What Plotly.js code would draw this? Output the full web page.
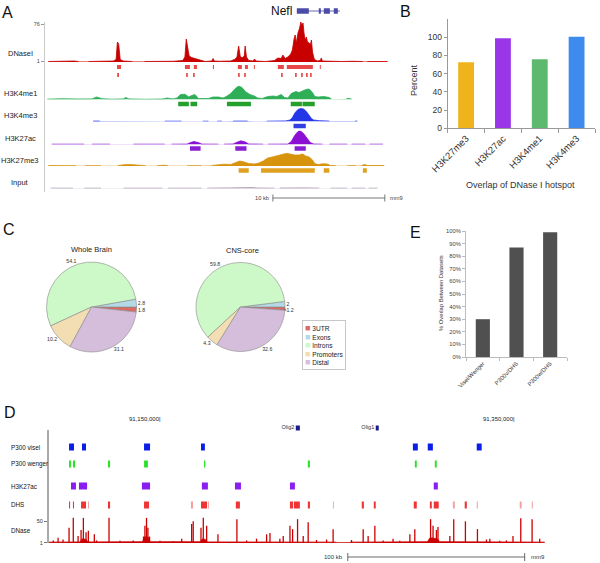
<!DOCTYPE html>
<html><head><meta charset="utf-8">
<script src="https://cdn.plot.ly/plotly-3.0.1.min.js"></script>
<style>html,body{margin:0;padding:0;background:#fff}#chart{width:600px;height:563px}</style>
</head><body><div id="chart"></div>
<script>
// ================= DATA =================
// ---- Panel A (mm9, Nefl locus; positions in kb from window start) ----
const A_nefl_exons = [[22.5,23.57],[24.46,24.64],[24.91,25.45],[25.8,26.16]];
const A_nefl_span = [[22.5,26.34]];
const A_dnase = [
 [[0.3,1],[1.2,1.5],[2.2,1],[2.6,2],[3.0,1]],
 [[3.9,1],[5.2,1.5],[6.1,2],[6.35,5],[6.47,40],[6.58,36],[6.72,5],[7.0,2],[7.8,1]],
 [[8.9,1],[10.5,1],[11.5,1.5],[12.3,3],[12.5,10],[12.62,46],[12.74,32],[12.88,12],[13.1,9],[13.4,7],[13.7,5],[14.0,3],[14.3,1],[14.9,2],[15.02,7],[15.12,2],[15.6,1.5],[16.6,2],[17.0,6],[17.15,10],[17.3,32],[17.45,10],[17.65,9],[17.8,12],[17.88,32],[18.0,10],[18.2,3],[18.6,2],[18.72,6],[18.85,2],[19.7,1],[20.5,3],[20.8,8],[21.1,7],[21.25,14],[21.45,7],[21.7,10],[21.95,16],[22.1,24],[22.25,46],[22.35,54],[22.45,38],[22.6,58],[22.75,68],[22.85,80],[22.95,74],[23.05,78],[23.15,56],[23.25,44],[23.35,50],[23.45,40],[23.6,38],[23.7,34],[23.8,44],[23.9,20],[24.05,6],[24.3,2],[24.6,3],[24.68,8],[24.78,2],[25.3,1.5],[26.5,1],[27.5,1.5],[28.4,1]],
 [[28.8,1],[30.6,1]]
];
const A_hotspots = [[6.43,6.79],[12.5,12.95],[13.3,13.57],[15.0,15.1],[17.23,17.59],[17.86,18.13],[18.66,18.75],[20.8,21.34],[21.6,23.93],[24.55,24.64]];
const A_peaks = [[6.46,6.6],[12.62,12.75],[13.24,13.37],[17.26,17.39],[17.8,17.93],[21.1,21.23],[22.35,22.48],[22.89,23.02],[23.33,23.46],[23.69,23.82]];
const A_k4me1 = [
 [[0.2,0.3],[1.5,0.8],[3.0,0.5],[4.2,0.6],[4.6,2.5],[5.1,0.8],[6.0,0.3],[7.0,0.6],[7.2,2],[7.5,0.6],[9.0,0.2],[10.5,0.5],[10.9,1.5],[11.4,0.6],[11.8,1.5],[12.1,5],[12.5,5.3],[12.85,2.5],[13.1,4],[13.4,5],[13.7,1],[14.6,1],[15.0,2.5],[15.5,2.5],[15.9,1.5],[16.2,3],[16.6,6],[17.0,11],[17.3,13.5],[17.6,12],[17.9,8],[18.3,5],[18.7,3.5],[19.0,1.5],[19.4,1],[19.9,3],[20.4,3.5],[20.7,3],[21.1,5],[21.4,2],[21.7,1.5],[22.0,6],[22.4,8],[22.7,7],[23.0,8.5],[23.3,10],[23.6,10.5],[23.9,7],[24.1,3],[24.4,2.5],[24.9,3],[25.4,2],[25.6,0.3]],
 [[26.9,0.5],[27.1,1.2],[27.4,0.3]]
];
const A_k4me1_regions = [[11.9,12.85],[13.0,13.6],[16.25,18.4],[21.95,22.95],[23.0,24.1]];
const A_k4me3 = [
 [[4.3,0.4],[4.9,0.4]], [[10.7,0.3],[12.2,0.3]], [[14.1,0.3],[14.6,0.3]], [[15.4,0.3],[15.8,0.3]], [[16.8,0.4],[18.1,0.4]],
 [[19.8,0.3],[21.5,0.6],[21.9,1.5],[22.1,4],[22.35,9],[22.6,12],[22.85,13],[23.1,12.5],[23.35,10],[23.6,6],[23.8,3],[24.0,1.5],[24.5,0.8],[25.4,0.4]],
 [[27.7,0.4],[27.9,0.4]]
];
const A_k4me3_regions = [[22.2,23.3]];
const A_k27ac = [
 [[0.6,0.3],[3.5,0.3]], [[4.2,0.3],[5.8,0.3]], [[7.9,0.3],[10.7,0.3]],
 [[11.3,0.3],[12.7,0.4],[13.0,2],[13.3,3],[13.7,2],[14.0,0.4],[15.5,0.3]],
 [[16.0,0.3],[16.8,0.5],[17.2,2.5],[17.5,3.7],[17.9,2.5],[18.2,0.5],[19.5,0.3]],
 [[19.9,0.3],[21.7,0.4],[22.0,3],[22.3,9],[22.6,13],[22.8,13.7],[23.1,11],[23.4,6],[23.7,2],[24.0,0.5],[24.8,0.3]],
 [[25.4,0.3],[27.0,0.3]], [[27.4,0.3],[28.6,0.3]], [[29.0,0.3],[30.2,0.3]]
];
const A_k27ac_regions = [[12.95,13.9],[17.0,18.0],[22.3,23.3]];
const A_k27me3 = [
 [[0.3,0.4],[1.5,0.6],[2.8,0.3]], [[3.6,0.3],[5.0,0.3]],
 [[6.5,0.3],[7.0,1.2],[7.6,1.5],[8.4,1],[9.0,0.3]], [[10.0,0.3],[10.6,0.8],[11.0,0.3]], [[12.7,0.3],[13.4,0.6],[14.0,0.3]],
 [[14.9,0.5],[15.5,1.5],[16.0,1.8],[16.6,1.5],[17.0,3],[17.4,5],[17.8,4],[18.2,2.5],[18.7,2],[19.1,3],[19.5,5],[19.9,8],[20.3,9],[20.8,10.5],[21.2,11],[21.6,12.7],[21.9,12],[22.3,11],[22.7,11],[23.0,12],[23.3,10],[23.6,9],[23.9,6],[24.1,2.5],[24.4,1.5],[24.8,2.2],[25.2,2],[25.5,0.5],[26.0,0.3]],
 [[27.0,0.3],[27.8,0.3]], [[28.3,0.5],[28.55,1.5],[28.8,0.5],[30.3,0.5]]
];
const A_k27me3_regions = [[17.3,18.2],[19.3,24.1],[24.9,25.4],[28.4,28.75]];
const A_input = [
 [[0.5,0.3],[2.5,0.3]], [[3.5,0.3],[5.0,0.3]], [[7.0,0.3],[9.2,0.3],[10.5,0.3]], [[11.0,0.3],[14.0,0.3]],
 [[14.5,0.3],[16.5,0.5],[17.3,1],[17.6,0.4],[18.5,0.8],[19.0,0.4],[20.5,0.3]],
 [[21.0,0.4],[22.5,0.8],[22.8,1.2],[23.2,0.6],[24.5,0.3]], [[25.5,0.3],[27.0,0.3]], [[27.4,0.3],[28.6,0.3]], [[28.9,0.3],[29.7,0.3]]
];
const A_scale_kb = 10;

// ---- Panel B ----
const B_marks = ['H3K27me3','H3K27ac','H3K4me1','H3K4me3'];
const B_percent = [72.5, 99, 76, 100.5];

// ---- Panel C ----
const C_categories = ['3UTR','Exons','Introns','Promoters','Distal'];
const C_wholeBrain = [1.8, 2.8, 54.1, 10.2, 31.1];
const C_cnsCore = [1.2, 2, 59.8, 4.3, 32.6];

// ---- Panel D (mm9 chr16, kb) ----
const D_genes = ['Olig2','Olig1'];
const D_geneSpans = [[91225.1,91227.4],[91270.3,91272.0]];
const D_coordTicks = [91150, 91350];
const D_coordLabels = ['91,150,000|','91,350,000|'];
const D_p300visel = [[91096.9,91099.7],[91104.2,91106.5],[91139.3,91142.7],[91171.5,91173.7],[91291.3,91294.1],[91299.7,91302.6],[91327.4,91330.2]];
const D_p300wenger = [[91096.9,91098.0],[91099.1,91100.3],[91118.9,91120.1],[91139.3,91141.5],[91173.2,91173.9],[91231.9,91233.1],[91292.4,91293.5],[91303.7,91304.8]];
const D_h3k27ac = [[91098.0,91100.8],[91102.5,91107.1],[91138.1,91142.7],[91172.0,91175.4],[91190.7,91194.1],[91221.8,91224.6],[91303.1,91305.4]];
const D_dhsStrong = [[91096.9,91097.5],[91099.1,91099.7],[91103.7,91106.5],[91118.9,91120.1],[91139.3,91142.1],[91171.5,91174.9],[91191.2,91193.5],[91221.8,91223.5],[91224.0,91227.4],[91231.9,91233.1],[91262.4,91263.6],[91269.2,91270.3],[91291.8,91293.5],[91300.9,91302.0],[91303.1,91305.9],[91320.6,91321.8]];
const D_dhsWeak = [[91107.6,91108.2],[91165.8,91167.0],[91175.4,91176.0],[91246.1,91246.6],[91313.9,91315.0],[91327.4,91328.0],[91351.7,91352.8],[91358.5,91359.1]];
const D_dnasePos = [91088.0,91090.7,91093.5,91096.9,91099.3,91102.0,91103.7,91105.0,91106.5,91107.8,91111.2,91112.5,91119.5,91125.7,91133.2,91139.0,91139.8,91140.7,91141.5,91142.4,91148.3,91155.8,91160.6,91166.2,91167.1,91171.5,91172.8,91174.7,91181.1,91191.8,91197.3,91202.9,91208.6,91210.5,91216.1,91218.0,91221.8,91223.3,91226.1,91229.3,91232.1,91236.8,91242.5,91246.2,91256.6,91263.2,91266.0,91269.8,91274.5,91280.1,91283.9,91289.6,91292.4,91301.3,91302.7,91304.6,91305.5,91312.2,91314.4,91321.0,91327.8,91332.9,91334.8,91340.4,91344.2,91347.9,91352.3,91358.7,91363.0];
const D_dnaseVal = [6,12,8,35,58,16,30,58,25,28, 20,6,58,5,6,15,40,58,35,15, 5,4,10,44,50,35,58,40,20,55, 6,10,20,23,10,16,40,32,55,16, 48,7,8,32,7,32,16,40,6,10, 5,20,32,55,40,30,37,16,55,50, 32,8,10,5,6,16,57,55,10];
const D_dnaseBase = [
 [[91085.5,2],[91103.0,2.5],[91104.5,10],[91106.5,8],[91107.5,2.5],[91138.5,3],[91139.5,14],[91141.5,14],[91142.8,3],[91171,3],[91172.5,10],[91174,8],[91175,2.5],[91248.0,2]],
 [[91255.9,2],[91299.5,3],[91301,12],[91305,10],[91306.5,3],[91365.8,2]]
];
const D_scale_kb = 100;

// ---- Panel E ----
const E_pairs = ['Visel/Wenger','P300v/DHS','P300w/DHS'];
const E_overlap = [0.30, 0.87, 0.99];

// ================= LAYOUT HELPERS =================
const W = 600, H = 563;
const px = v => v / W, py = v => 1 - v / H;
const FONT = 'Liberation Sans, Arial, sans-serif';

function segXY(list){ const x=[], y=[]; list.forEach((s,i)=>{ if(i){x.push(null);y.push(null);} s.forEach(p=>{x.push(p[0]);y.push(p[1]);}); }); return {x,y}; }
function ivXY(list,row){ const x=[], y=[]; list.forEach((iv,i)=>{ if(i){x.push(null);y.push(null);} x.push(iv[0],iv[1]); y.push(row,row); }); return {x,y}; }
function needleXY(pos,val){ const x=[], y=[]; pos.forEach((p,i)=>{ x.push(p,p,null); y.push(0,val[i],null); }); return {x,y}; }

const traces = [];
function signal(list, xa, ya, color, fill){
  const d = segXY(list);
  traces.push({type:'scatter', mode:'lines', x:d.x, y:d.y, xaxis:xa, yaxis:ya, fill:'tozeroy', fillcolor:fill||color,
    line:{color:color, width:0.8}, hoverinfo:'skip', showlegend:false});
}
function intervals(list, xa, row, h, color){
  const d = ivXY(list,row);
  traces.push({type:'scatter', mode:'lines', x:d.x, y:d.y, xaxis:xa, yaxis:'y', line:{color:color, width:h}, hoverinfo:'skip', showlegend:false});
}

// ---- Panel A traces ----
intervals(A_nefl_span,'x',11,1,'#6a6ab8');
intervals(A_nefl_exons,'x',11,5.5,'#4b4ba8');
signal(A_dnase,'x','y2','#c80000');
intervals(A_hotspots,'x',67,4,'#e84848');
intervals(A_peaks,'x',75,4,'#e03030');
signal(A_k4me1,'x','y3','#2fae58');
intervals(A_k4me1_regions,'x',104,4.5,'#24a02c');
signal(A_k4me3,'x','y4','#2436e8');
intervals(A_k4me3_regions,'x',126,4.5,'#3040e0');
signal(A_k27ac,'x','y5','#8c10d4');
intervals(A_k27ac_regions,'x',148.5,4.5,'#8a1ed2');
signal(A_k27me3,'x','y6','#d8930c');
intervals(A_k27me3_regions,'x',170.5,4.5,'#e0a020');
signal(A_input,'x','y7','#9a8aa0');

// ---- Panel D traces ----
intervals(D_geneSpans,'x2',428,5,'#1a1a8c');
traces.push({type:'scatter', mode:'text', x:D_geneSpans.map(s=>s[0]), y:D_genes.map(()=>428), text:D_genes.map(g=>g+' '),
  textposition:'middle left', textfont:{size:5.5, color:'#333', family:FONT}, xaxis:'x2', yaxis:'y', hoverinfo:'skip', showlegend:false});
intervals(D_p300visel,'x2',447,7,'#0a1ee8');
intervals(D_p300wenger,'x2',464,7,'#2ee02e');
intervals(D_h3k27ac,'x2',486,7,'#8a1ef0');
intervals(D_dhsStrong,'x2',505,7,'#ee3434');
intervals(D_dhsWeak,'x2',505,7,'#f4a0a0');
signal(D_dnaseBase,'x2','y8','#cc0000');
const nd = needleXY(D_dnasePos, D_dnaseVal);
traces.push({type:'scatter', mode:'lines', x:nd.x, y:nd.y, xaxis:'x2', yaxis:'y8', line:{color:'#cc0000', width:1.3}, hoverinfo:'skip', showlegend:false});

// ---- Panel B ----
traces.push({type:'bar', x:B_marks, y:B_percent, width:0.43, xaxis:'x3', yaxis:'y9',
  marker:{color:['#efb41b','#9b36e8','#5db96e','#3e8bee'], line:{width:0}}, hoverinfo:'skip', showlegend:false});

// ---- Panel E ----
traces.push({type:'bar', x:E_pairs, y:E_overlap, width:0.42, xaxis:'x4', yaxis:'y10',
  marker:{color:'#505050', line:{width:0}}, hoverinfo:'skip', showlegend:false});

// ---- Panel C pies ----
const C_colors = ['#db6a62','#b3d9e6','#cdf8c8','#f2deb2','#d5bedb'];
function pie(vals, cx, cy, r){
  traces.push({type:'pie', values:vals, labels:C_categories, sort:false, direction:'counterclockwise', rotation:90,
    marker:{colors:C_colors, line:{color:'#8a8a8a', width:0.6}},
    textinfo:'value', textposition:'outside', outsidetextfont:{size:5.2, color:'#333', family:FONT},
    domain:{x:[px(cx-r), px(cx+r)], y:[py(cy+r), py(cy-r)]}, hoverinfo:'skip', showlegend:false});
}
pie(C_wholeBrain, 91.5, 307, 45);
pie(C_cnsCore, 240.5, 307, 44.5);

// ================= LAYOUT =================
const hidden = {visible:false, showgrid:false, zeroline:false, fixedrange:true};
const trackY = (bottom, top, max, anchor) => Object.assign({}, hidden, {domain:[py(bottom), py(top)], range:[0,max], anchor:anchor});

const layout = {
  width:W, height:H, margin:{l:0,r:0,t:0,b:0}, paper_bgcolor:'#fff', plot_bgcolor:'rgba(0,0,0,0)',
  showlegend:false, font:{family:FONT, color:'#222'},
  xaxis: Object.assign({}, hidden, {domain:[px(45), px(392)], range:[0,31], anchor:'y'}),
  yaxis: Object.assign({}, hidden, {domain:[0,1], range:[H,0], anchor:'x'}),
  yaxis2: Object.assign(trackY(62,22,80,'x'), {visible:true, showline:false, tickvals:[1,76], ticks:'outside', ticklen:3, tickcolor:'#999', tickfont:{size:5.5, color:'#444'}}),
  yaxis3: trackY(99.5,85.5,14,'x'),
  yaxis4: trackY(121.5,107.5,14,'x'),
  yaxis5: trackY(144.5,130.5,14,'x'),
  yaxis6: trackY(166,152,14,'x'),
  yaxis7: trackY(188.5,184.5,4,'x'),
  xaxis2: Object.assign({}, hidden, {domain:[px(48), px(545)], range:[91085,91366], anchor:'y8'}),
  yaxis8: Object.assign(trackY(543,517,60,'x2'), {visible:true, showline:false, tickvals:[1,50], ticks:'outside', ticklen:3, tickcolor:'#777', tickfont:{size:5.5, color:'#333'}}),
  xaxis3: {domain:[px(447.7), px(595)], anchor:'y9', type:'category', range:[-0.5,3.5], showline:true, linecolor:'#999', linewidth:1,
    ticks:'outside', tickson:'boundaries', ticklen:4, tickcolor:'#999', tickangle:-45, tickfont:{size:9.5, color:'#333'}, showgrid:false, fixedrange:true},
  yaxis9: {domain:[py(128.3), py(19.1)], anchor:'x3', range:[0,120], tickvals:[0,20,40,60,80,100], showline:true, linecolor:'#999', linewidth:1,
    ticks:'outside', ticklen:3, tickcolor:'#999', tickfont:{size:8.5, color:'#333'}, showgrid:false, zeroline:false, fixedrange:true},
  xaxis4: {domain:[px(466), px(567)], anchor:'y10', type:'category', range:[-0.5,2.5], showline:true, linecolor:'#bbb', linewidth:1,
    ticks:'outside', tickson:'boundaries', ticklen:3, tickcolor:'#bbb', tickangle:-45, tickfont:{size:5.8, color:'#333'}, showgrid:false, fixedrange:true},
  yaxis10: {domain:[py(357), py(231)], anchor:'x4', range:[0,1], dtick:0.1, tickformat:'.0%', showline:true, linecolor:'#bbb', linewidth:1,
    ticks:'outside', ticklen:3, tickcolor:'#bbb', tickfont:{size:5.8, color:'#444'}, showgrid:false, zeroline:false, fixedrange:true},
  shapes: [
    {type:'line', xref:'paper', yref:'paper', x0:px(44.5), x1:px(44.5), y0:py(192), y1:py(22), line:{color:'#ccc', width:1}},
    {type:'line', xref:'paper', yref:'paper', x0:px(48), x1:px(48), y0:py(543), y1:py(430), line:{color:'#555', width:1}},
    {type:'line', xref:'x', yref:'paper', x0:30.36-A_scale_kb, x1:30.36, y0:py(198), y1:py(198), line:{color:'#555', width:0.8}},
    {type:'line', xref:'x', yref:'paper', x0:30.36-A_scale_kb, x1:30.36-A_scale_kb, y0:py(194.5), y1:py(201.5), line:{color:'#555', width:0.8}},
    {type:'line', xref:'x', yref:'paper', x0:30.36, x1:30.36, y0:py(194.5), y1:py(201.5), line:{color:'#555', width:0.8}},
    {type:'line', xref:'x2', yref:'paper', x0:91254.5, x1:91254.5+D_scale_kb, y0:py(557), y1:py(557), line:{color:'#444', width:0.8}},
    {type:'line', xref:'x2', yref:'paper', x0:91254.5, x1:91254.5, y0:py(553), y1:py(561), line:{color:'#444', width:0.8}},
    {type:'line', xref:'x2', yref:'paper', x0:91254.5+D_scale_kb, x1:91254.5+D_scale_kb, y0:py(553), y1:py(561), line:{color:'#444', width:0.8}}
  ],
  annotations: []
};

function ann(text, x, y, opts){
  layout.annotations.push(Object.assign({text:text, x:px(x), y:py(y), xref:'paper', yref:'paper', showarrow:false,
    xanchor:'center', yanchor:'middle', font:{size:8, color:'#222', family:FONT}}, opts||{}));
}
// Panel letters
[['A',7,12],['B',405,11],['C',9,229],['D',9.5,412.5],['E',415,232.5]].forEach(l=>ann(l[0],l[1],l[2],{font:{size:16,color:'#111',family:FONT}}));
// Panel A labels
[['DNaseI',54],['H3K4me1',93],['H3K4me3',115],['H3K27ac',138],['H3K27me3',160],['Input',182]].forEach(t=>ann(t[0],20,t[1],{font:{size:7.5,color:'#222',family:FONT}}));
ann('Nefl',294,11,{xanchor:'right',font:{size:12,color:'#111',family:FONT}});
ann(A_scale_kb+' kb',271,198,{xanchor:'right',font:{size:5.7,color:'#444',family:FONT}});
ann('mm9',388,198,{xanchor:'left',font:{size:5.7,color:'#444',family:FONT}});
// Panel B titles
ann('Percent',414,80,{textangle:-90,font:{size:9,color:'#333',family:FONT}});
ann('Overlap of DNase I hotspot',520,185,{font:{size:9,color:'#333',family:FONT}});
// Panel C titles + legend
ann('Whole Brain',91,249,{font:{size:7.5,color:'#222',family:FONT}});
ann('CNS-core',242,250,{font:{size:7.5,color:'#222',family:FONT}});
ann(C_categories.map((c,i)=>'<span style="color:'+C_colors[i]+';font-size:9px">■</span> '+c).join('<br>'),302,320,
  {xanchor:'left',yanchor:'top',align:'left',bordercolor:'#c8c8c8',borderwidth:1,borderpad:2,bgcolor:'#fff',font:{size:6.6,color:'#222',family:FONT}});
// Panel E title
ann('% Overlap Between Datasets',441,293,{textangle:-90,font:{size:5.8,color:'#333',family:FONT}});
// Panel D labels
[['P300 visel',447],['P300 wenger',464],['H3K27ac',486.5],['DHS',505],['DNase',530]].forEach(t=>ann(t[0],9,t[1],{xanchor:'left',font:{size:6.3,color:'#111',family:FONT}}));
D_coordTicks.forEach((t,i)=>layout.annotations.push({text:D_coordLabels[i], x:t, y:py(419), xref:'x2', yref:'paper', showarrow:false,
  xanchor:'right', yanchor:'middle', font:{size:6,color:'#222',family:FONT}}));
ann(D_scale_kb+' kb',345,557,{xanchor:'right',font:{size:6,color:'#333',family:FONT}});
ann('mm9',529,557,{xanchor:'left',font:{size:6,color:'#333',family:FONT}});

Plotly.newPlot('chart', traces, layout, {displayModeBar:false, staticPlot:true});
</script>
</body></html>
